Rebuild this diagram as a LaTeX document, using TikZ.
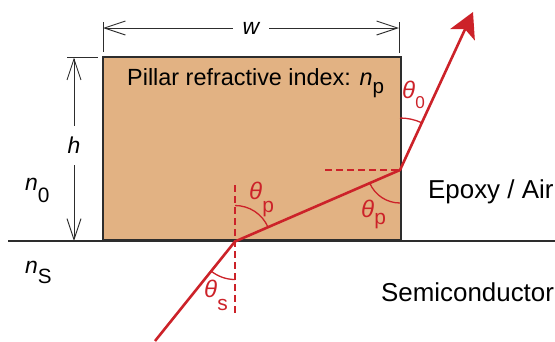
\documentclass[tikz,border=0pt]{standalone}
\usepackage{fontspec}
\setmainfont{Liberation Sans}
\usetikzlibrary{arrows.meta}
\definecolor{rayred}{RGB}{204,34,41}
\definecolor{pillarfill}{RGB}{226,178,131}
\definecolor{ink}{RGB}{45,45,45}
\newcommand\mysub[3]{\raisebox{-#1}{\scalebox{#2}{#3}}}
\begin{document}
\begin{tikzpicture}[x=1bp,y=1bp,
  ray/.style={draw=rayred, line width=2.6bp, line join=miter},
  guide/.style={draw=rayred, line width=1.3bp, dash pattern=on 7bp off 4bp},
  anglearc/.style={draw=rayred, line width=1.3bp},
  dimline/.style={draw=ink, line width=0.9bp},
  dimarrow/.style={dimline, {Straight Barb[length=21bp,width=14bp]}-{Straight Barb[length=21bp,width=14bp]}},
  lbl/.style={inner sep=0pt, anchor=base west},
  anglelbl/.style={lbl, text=rayred, font=\fontsize{21}{21}\selectfont}
]
\useasboundingbox (0,0) rectangle (555,-341);
% pillar
\node[draw=ink, fill=pillarfill, line width=2bp, minimum width=298bp, minimum height=183.5bp,
      anchor=south west, inner sep=0pt] (box) at (102,-241) {};
% ground line
\coordinate (gl) at (8,-241);
\coordinate (gr) at (560,-241);
\draw[ink, line width=2bp] (gl) -- (gr);
% width dimension
\coordinate (wl0) at (103,-22); \coordinate (wl1) at (103,-52);
\coordinate (wr0) at (399,-22); \coordinate (wr1) at (399,-53);
\draw[dimline] (wl0) -- (wl1);
\draw[dimline] (wr0) -- (wr1);
\coordinate (wl) at (103,-28); \coordinate (wr) at (399,-28);
\draw[dimarrow] (wl) -- (wr) node[midway, fill=white, inner xsep=10bp, inner ysep=2bp, font=\fontsize{23}{23}\selectfont\itshape] (wlab) {w};
% height dimension
\coordinate (ht0) at (67,-57.5); \coordinate (ht1) at (98,-57.5);
\draw[dimline] (ht0) -- (ht1);
\coordinate (ht) at (74,-57.5); \coordinate (hb) at (74,-241);
\draw[dimarrow] (ht) -- (hb) node[pos=0.48, fill=white, inner xsep=1bp, inner ysep=11bp, font=\fontsize{23}{23}\selectfont\itshape] (hlab) {h};
% labels
\node[lbl, font=\fontsize{23.5}{23.5}\selectfont] (ptext) at (127,-85) {Pillar refractive index: \textit{n}\mysub{8bp}{0.88}{p}};
\node[lbl, font=\fontsize{23}{23}\selectfont] (n0) at (25,-190) {\textit{n}\mysub{12bp}{0.91}{0}};
\node[lbl, font=\fontsize{23}{23}\selectfont] (ns) at (25,-273) {\textit{n}\mysub{10bp}{0.9}{S}};
\node[lbl, font=\fontsize{26}{26}\selectfont] (epoxy) at (428,-198) {Epoxy / Air};
\node[lbl, font=\fontsize{26}{26}\selectfont] (semi) at (381,-301) {Semiconductor};
% ray points
\coordinate (A) at (155,-341);
\coordinate (B) at (235,-241.5);
\coordinate (C) at (400,-170);
\coordinate (D) at (473,-12);
% guides
\coordinate (v1) at (235,-185); \coordinate (v2) at (235,-317);
\draw[guide] (v1) -- (v2);
\coordinate (h1) at (325,-170);
\draw[guide] (h1) -- (C);
% arcs
\draw[anglearc] (B) ++(90:36) arc[start angle=90, end angle=23.4, radius=36];
\draw[anglearc] (C) ++(270:33) arc[start angle=270, end angle=203.4, radius=33];
\draw[anglearc] (B) ++(270:38) arc[start angle=270, end angle=231.2, radius=38];
\draw[anglearc] (C) ++(90:52) arc[start angle=90, end angle=65.2, radius=52];
% ray
\draw[ray, -{Stealth[length=25bp, width=27bp, inset=6bp]}] (A) -- (B) -- (C) -- (D);
% angle labels
\node[anglelbl] (tp1) at (249,-199) {\scalebox{1.15}{\textit{θ}}\mysub{13.5bp}{1}{p}};
\node[anglelbl] (tp2) at (361,-217.5) {\scalebox{1.15}{\textit{θ}}\mysub{6.5bp}{1}{p}};
\node[anglelbl] (ts) at (204,-297) {\scalebox{1.15}{\textit{θ}}\mysub{13bp}{1}{s}};
\node[anglelbl] (t0) at (402,-98) {\scalebox{1.15}{\textit{θ}}\mysub{10bp}{0.82}{0}};
\end{tikzpicture}
\end{document}
